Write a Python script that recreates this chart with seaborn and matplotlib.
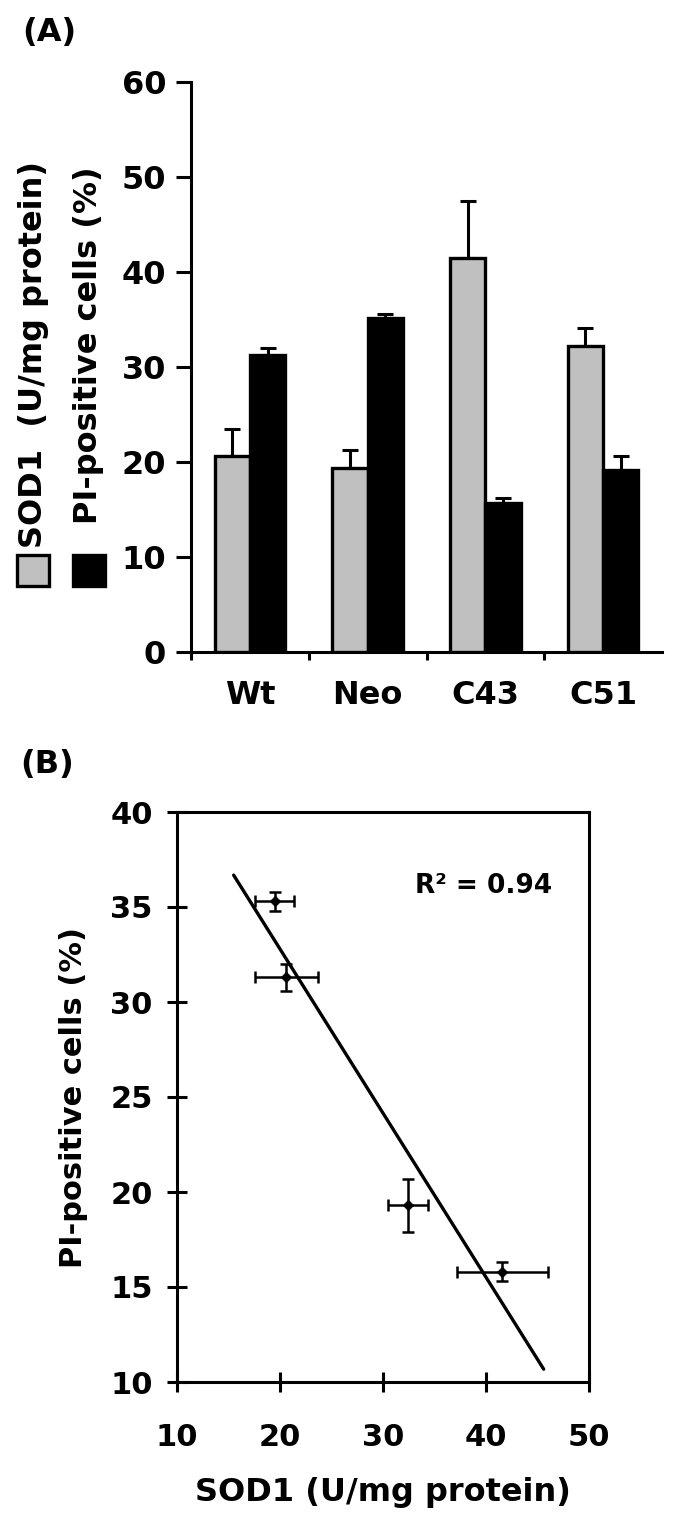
import matplotlib
matplotlib.use('Agg')
import matplotlib.pyplot as plt
import numpy as np
import pandas as pd
import seaborn as sns
from matplotlib.patches import Rectangle
from matplotlib.ticker import FixedLocator

# ---- panel A data ----
groups = ['Wt', 'Neo', 'C43', 'C51']
sod1 = [20.6, 19.4, 41.5, 32.2]
sod1_err = [2.9, 1.9, 6.0, 1.9]
pi_cells = [31.3, 35.2, 15.7, 19.2]
pi_err = [0.7, 0.4, 0.5, 1.4]

# ---- panel B data (Wt, Neo, C43, C51) ----
b_sod1 = [20.6, 19.5, 41.6, 32.4]
b_sod1_err = [3.05, 1.9, 4.4, 1.95]
b_pi = [31.3, 35.3, 15.8, 19.3]
b_pi_err = [0.7, 0.5, 0.5, 1.4]
fit_range = [15.5, 45.6]
r2_text = 'R² = 0.94'

sns.set_theme(style='ticks')
plt.rcParams['font.family'] = ['DejaVu Sans']
plt.rcParams['font.weight'] = 'bold'
plt.rcParams['axes.linewidth'] = 2.2
for k in ['text.color', 'axes.labelcolor', 'xtick.color', 'ytick.color', 'axes.edgecolor']:
    plt.rcParams[k] = 'black'

W, H = 688, 1530
fig = plt.figure(figsize=(W / 100, H / 100), dpi=100)

# ------------------------------------------------------------------ panel A
axA = fig.add_axes([191 / W, 1 - 652 / H, 471 / W, 570 / H])
df = pd.DataFrame({
    'group': groups * 2,
    'value': sod1 + pi_cells,
    'series': ['SOD1'] * 4 + ['PI'] * 4,
})
sns.barplot(data=df, x='group', y='value', hue='series', palette=['#c0c0c0', 'black'],
            width=0.6, edgecolor='black', linewidth=2.4, errorbar=None, legend=False,
            saturation=1, ax=axA, zorder=3)

bars = sorted(axA.patches, key=lambda p: p.get_x())
errs = []
for i in range(len(groups)):
    errs += [sod1_err[i], pi_err[i]]
for p, e in zip(bars, errs):
    xc = p.get_x() + p.get_width() / 2
    axA.errorbar(xc, p.get_height(), yerr=[[0], [e]], fmt='none', ecolor='black',
                 elinewidth=2.2, capsize=6, capthick=2.2, zorder=2)

axA.set_ylim(0, 60)
axA.set_xlim(-0.5, 3.5)
axA.set_yticks(range(0, 61, 10))
axA.xaxis.set_minor_locator(FixedLocator([-0.5, 0.5, 1.5, 2.5]))
axA.tick_params(axis='y', direction='out', length=11, width=2.2, labelsize=23, pad=7)
axA.tick_params(axis='x', which='major', length=0, labelsize=23, pad=20)
axA.tick_params(axis='x', which='minor', direction='out', length=6, width=2.2)
axA.set_xlabel('')
axA.set_ylabel('')
for lab in axA.get_xticklabels() + axA.get_yticklabels():
    lab.set_fontweight('bold')
sns.despine(ax=axA)

# two-line y label with legend squares
fig.text(34 / W, 1 - 548 / H, 'SOD1  (U/mg protein)', rotation=90, ha='center', va='bottom',
         fontsize=23, fontweight='bold')
fig.text(89 / W, 1 - 524 / H, 'PI-positive cells (%)', rotation=90, ha='center', va='bottom',
         fontsize=23, fontweight='bold')
fig.patches.append(Rectangle((17 / W, 1 - 586 / H), 32 / W, 31 / H, transform=fig.transFigure,
                             facecolor='#c0c0c0', edgecolor='black', linewidth=2.4))
fig.patches.append(Rectangle((73 / W, 1 - 586 / H), 32 / W, 31 / H, transform=fig.transFigure,
                             facecolor='black', edgecolor='black', linewidth=2.4))
fig.text(22 / W, 1 - 32 / H, '(A)', ha='left', va='center', fontsize=23, fontweight='bold')

# ------------------------------------------------------------------ panel B
axB = fig.add_axes([177 / W, 1 - 1382 / H, 412 / W, 570 / H])
axB.errorbar(b_sod1, b_pi, xerr=b_sod1_err, yerr=b_pi_err, fmt='none', ecolor='black',
             elinewidth=1.8, capsize=4, capthick=1.8, zorder=2)
sns.scatterplot(x=b_sod1, y=b_pi, marker='D', s=30, color='black', edgecolor='black',
                ax=axB, zorder=3)

slope, intercept = np.polyfit(b_sod1, b_pi, 1)
fx = np.array(fit_range)
sns.lineplot(x=fx, y=slope * fx + intercept, color='black', linewidth=2.4, ax=axB)

axB.text(33.1, 36.1, r2_text, ha='left', va='center', fontsize=19, fontweight='bold')

axB.set_xlim(10, 50)
axB.set_ylim(10, 40)
axB.set_xticks(range(10, 51, 10))
axB.set_yticks(range(10, 41, 5))
axB.tick_params(axis='both', direction='inout', length=15, width=2.2, labelsize=22)
axB.tick_params(axis='x', pad=22)
axB.tick_params(axis='y', pad=10)
for lab in axB.get_xticklabels() + axB.get_yticklabels():
    lab.set_fontweight('bold')
axB.set_xlabel('SOD1 (U/mg protein)', fontsize=23, fontweight='bold', labelpad=18)
axB.set_ylabel('PI-positive cells (%)', fontsize=22, fontweight='bold', labelpad=16)
fig.text(20 / W, 1 - 765 / H, '(B)', ha='left', va='center', fontsize=23, fontweight='bold')

fig.savefig('out.png', dpi=100, facecolor='white')
